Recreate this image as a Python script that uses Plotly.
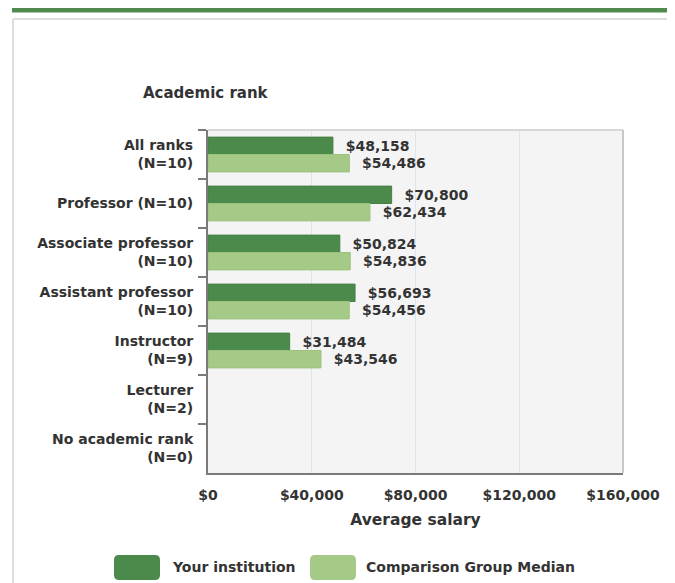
import plotly.graph_objects as go

categories = ["All ranks<br>(N=10)", "Professor (N=10)", "Associate professor<br>(N=10)",
              "Assistant professor<br>(N=10)", "Instructor<br>(N=9)", "Lecturer<br>(N=2)",
              "No academic rank<br>(N=0)"]
your_institution = [48158, 70800, 50824, 56693, 31484, None, None]
comparison_median = [54486, 62434, 54836, 54456, 43546, None, None]
x_tickvals = [0, 40000, 80000, 120000, 160000]
x_ticktext = ["$0", "$40,000", "$80,000", "$120,000", "$160,000"]

DARK = "#4b8a4b"
LIGHT = "#a5c987"
FONT = "DejaVu Sans, Liberation Sans, Arial, sans-serif"
TXT = "#333333"

# the page adds an 8px body margin, so the figure is 8px smaller and shifted
OFF = 8
W, H = 675 - OFF, 583 - OFF
L, R, T, B = 208 - OFF, 52, 130 - OFF, 110
PW, PH = W - L - R, H - T - B


def px(x):  # page x -> paper
    return (x - OFF - L) / PW


def py(y):  # page y -> paper
    return (H - B - (y - OFF)) / PH


fig = go.Figure()
fig.add_trace(go.Bar(
    y=categories, x=your_institution, orientation="h", name="Your institution",
    marker=dict(color=DARK, line=dict(color="#457f45", width=1)),
    texttemplate="  $%{x:,}", textposition="outside", cliponaxis=False,
    textfont=dict(family=FONT, size=14, color=TXT, weight="bold"),
))
fig.add_trace(go.Bar(
    y=categories, x=comparison_median, orientation="h", name="Comparison Group Median",
    marker=dict(color=LIGHT, line=dict(color="#9cc27e", width=1)),
    texttemplate="  $%{x:,}", textposition="outside", cliponaxis=False,
    textfont=dict(family=FONT, size=14, color=TXT, weight="bold"),
))

shapes = []
shapes.append(dict(type="rect", xref="paper", yref="paper", x0=px(12), x1=px(675), y0=py(12.5), y1=py(8),
                   fillcolor="#4e8a4e", line=dict(width=0), layer="below"))
shapes.append(dict(type="line", xref="paper", yref="paper", x0=px(13), x1=px(675), y0=py(19), y1=py(19),
                   line=dict(color="#dddddd", width=2)))
shapes.append(dict(type="line", xref="paper", yref="paper", x0=px(13), x1=px(13), y0=py(19), y1=py(583),
                   line=dict(color="#dddddd", width=2)))
shapes.append(dict(type="line", xref="paper", yref="paper", x0=0, x1=1, y0=1, y1=1,
                   line=dict(color="#d8d8d8", width=2)))
shapes.append(dict(type="line", xref="paper", yref="paper", x0=1, x1=1, y0=0, y1=1,
                   line=dict(color="#c8c8c8", width=2)))


def rounded(x0, y0, x1, y1, r):
    X0, X1 = px(x0), px(x1)
    Y0, Y1 = py(y1), py(y0)
    rx, ry = r / PW, r / PH
    return (f"M {X0+rx},{Y0} L {X1-rx},{Y0} Q {X1},{Y0} {X1},{Y0+ry} L {X1},{Y1-ry} "
            f"Q {X1},{Y1} {X1-rx},{Y1} L {X0+rx},{Y1} Q {X0},{Y1} {X0},{Y1-ry} "
            f"L {X0},{Y0+ry} Q {X0},{Y0} {X0+rx},{Y0} Z")


shapes.append(dict(type="path", xref="paper", yref="paper", path=rounded(114, 555, 160, 580, 5),
                   fillcolor=DARK, line=dict(width=0)))
shapes.append(dict(type="path", xref="paper", yref="paper", path=rounded(310, 555, 356, 580, 5),
                   fillcolor=LIGHT, line=dict(width=0)))

annotations = [
    dict(text="Your institution", xref="paper", yref="paper", x=px(170), y=py(567),
         xanchor="left", yanchor="middle", showarrow=False,
         font=dict(family=FONT, size=14, color=TXT, weight="bold")),
    dict(text="Comparison Group Median", xref="paper", yref="paper", x=px(364), y=py(567),
         xanchor="left", yanchor="middle", showarrow=False,
         font=dict(family=FONT, size=14, color=TXT, weight="bold")),
]

fig.update_layout(
    width=W, height=H,
    margin=dict(l=L, r=R, t=T, b=B),
    paper_bgcolor="white", plot_bgcolor="#f4f4f4",
    barmode="group", bargap=0.29, bargroupgap=0,
    showlegend=False,
    font=dict(family=FONT, color=TXT),
    title=dict(text="Academic rank", x=(143 - OFF) / W, xanchor="left", xref="container",
               y=1 - (93 - OFF) / H, yanchor="middle", yref="container",
               font=dict(family=FONT, size=15, color=TXT, weight="bold")),
    shapes=shapes, annotations=annotations,
)
fig.update_xaxes(
    range=[0, 160000], tickvals=x_tickvals, ticktext=x_ticktext,
    showgrid=True, gridcolor="#dbe5ef", gridwidth=1, zeroline=False,
    showline=True, linecolor="#7a7a7a", linewidth=2,
    ticks="", ticklabelstandoff=8,
    tickfont=dict(family=FONT, size=14, color=TXT, weight="bold"),
    title=dict(text="Average salary", standoff=12,
               font=dict(family=FONT, size=15.5, color=TXT, weight="bold")),
)
fig.update_yaxes(
    autorange="reversed", type="category",
    showline=True, linecolor="#7a7a7a", linewidth=2,
    ticks="outside", ticklen=8, tickwidth=2, tickcolor="#7a7a7a", tickson="boundaries",
    ticklabelstandoff=10,
    showgrid=False,
    tickfont=dict(family=FONT, size=14, color=TXT, weight="bold"),
)

fig.write_html("out.html")
